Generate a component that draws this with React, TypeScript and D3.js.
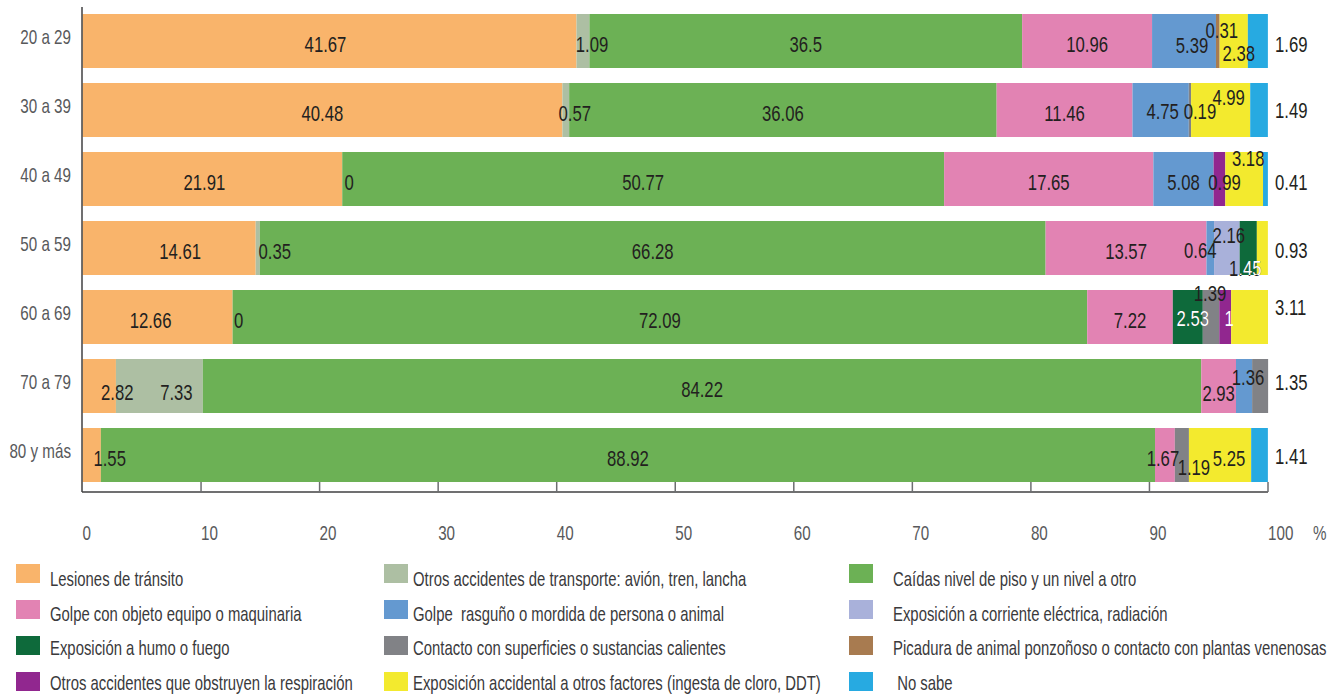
import React from "react";
import * as d3 from "d3";

// ---------- DATA ----------
const categories = ["20 a 29", "30 a 39", "40 a 49", "50 a 59", "60 a 69", "70 a 79", "80 y más"];

const seriesKeys = [
  "transito", "otrosTransporte", "caidas", "golpeObjeto", "golpeRasguno", "corriente",
  "humo", "contacto", "picadura", "obstruyen", "otrosFactores", "noSabe",
];

const seriesNames = [
  "Lesiones de tránsito",
  "Otros accidentes de transporte: avión, tren, lancha",
  "Caídas nivel de piso y un nivel a otro",
  "Golpe con objeto equipo o maquinaria",
  "Golpe  rasguño o mordida de persona o animal",
  "Exposición a corriente eléctrica, radiación",
  "Exposición a humo o fuego",
  "Contacto con superficies o sustancias calientes",
  "Picadura de animal ponzoñoso o contacto con plantas venenosas",
  "Otros accidentes que obstruyen la respiración",
  "Exposición accidental a otros factores (ingesta de cloro, DDT)",
  " No sabe",
];

const seriesColors = [
  "#F9B46B", "#ADBFA3", "#6CB155", "#E283B3", "#6499D0", "#A9B1DA",
  "#0E6A3B", "#818286", "#A87B50", "#91278F", "#F3EA2E", "#27AAE1",
];

const transito = [41.67, 40.48, 21.91, 14.61, 12.66, 2.82, 1.55];
const otrosTransporte = [1.09, 0.57, 0, 0.35, 0, 7.33, null];
const caidas = [36.5, 36.06, 50.77, 66.28, 72.09, 84.22, 88.92];
const golpeObjeto = [10.96, 11.46, 17.65, 13.57, 7.22, 2.93, 1.67];
const golpeRasguno = [5.39, 4.75, 5.08, 0.64, null, 1.36, null];
const corriente = [null, null, null, 2.16, null, null, null];
const humo = [null, null, null, 1.45, 2.53, null, null];
const contacto = [null, 0.19, null, null, 1.39, 1.35, 1.19];
const picadura = [0.31, null, null, null, null, null, null];
const obstruyen = [null, null, 0.99, null, 1, null, null];
const otrosFactores = [2.38, 4.99, 3.18, 0.93, 3.11, null, 5.25];
const noSabe = [1.69, 1.49, 0.41, null, null, null, 1.41];

const seriesValues: (number | null)[][] = [
  transito, otrosTransporte, caidas, golpeObjeto, golpeRasguno, corriente,
  humo, contacto, picadura, obstruyen, otrosFactores, noSabe,
];

const xTickValues = [0, 10, 20, 30, 40, 50, 60, 70, 80, 90, 100];

// ---------- LAYOUT (label nudges, px) ----------
const labelNudges: Record<string, [number, number]> = {
  "0|0": [-4, 0], "0|1": [9, 0], "0|4": [8, 1], "0|8": [4, -14], "0|10": [5, 9],
  "1|1": [9, 0], "1|4": [2, -2], "1|7": [10, -2], "1|10": [8, -16],
  "2|0": [-8, 0], "2|1": [7, 0], "2|9": [5, 0], "2|10": [4, -24],
  "3|0": [11, 0], "3|1": [17, 0], "3|4": [-10, -1], "3|5": [2, -16], "3|6": [-3, 17],
  "4|0": [-7, 0], "4|1": [6, 0], "4|6": [5, -2], "4|7": [-1, -27], "4|9": [4, -2],
  "5|0": [18, 3], "5|1": [17, 3], "5|3": [0, 4], "5|4": [4, -12],
  "6|0": [18, 0], "6|3": [-2, 0], "6|7": [12, 9], "6|10": [9, 0],
};
const outsideDy = [0, -3, 0, -1, -13, -7, -2];

const FONT = "'Liberation Sans', Arial, sans-serif";
const SX = 0.76;
const W = 1337;
const H = 695;

function T({ x, y, size, fill, anchor = "start", children }: any) {
  return (
    <text
      transform={`translate(${x},${y}) scale(${SX},1)`}
      fontSize={size}
      fill={fill}
      textAnchor={anchor}
      fontFamily={FONT}
      style={{ whiteSpace: "pre" }}
    >
      {children}
    </text>
  );
}

export default function App() {
  const xScale = d3.scaleLinear().domain([0, 100]).range([82.5, 1268]);
  const yScale = d3
    .scaleBand<string>()
    .domain(categories)
    .range([7.1, 488.9])
    .paddingInner(0.2174)
    .paddingOuter(0.1);

  const table = categories.map((c, i) => {
    const row: any = { cat: c };
    seriesKeys.forEach((k, s) => (row[k] = seriesValues[s][i] ?? 0));
    return row;
  });
  const stacked = d3.stack<any>().keys(seriesKeys)(table);

  const bw = yScale.bandwidth();
  const axisY = 492;
  const labelSize = 22;

  const rects: any[] = [];
  const labels: any[] = [];
  const clips: any[] = [];

  categories.forEach((cat, i) => {
    const y0 = yScale(cat)!;
    const rc = y0 + bw / 2;
    let lastS = -1;
    seriesKeys.forEach((_, s) => {
      if (seriesValues[s][i] !== null) lastS = s;
    });
    seriesKeys.forEach((k, s) => {
      const v = seriesValues[s][i];
      const [a, b] = stacked[s][i];
      const xa = xScale(a);
      const xb = xScale(b);
      if (b > a) {
        rects.push(
          <rect key={`r${i}-${s}`} x={xa} y={y0} width={xb - xa} height={bw} fill={seriesColors[s]} />
        );
      }
      if (v === null) return;
      const txt = String(v);
      if (s === lastS) {
        labels.push(
          <T key={`l${i}-${s}`} x={xScale(100) + 7} y={rc + 3 + 8 + outsideDy[i]} size={labelSize} fill="#231F20">
            {txt}
          </T>
        );
        return;
      }
      const [dx, dy] = labelNudges[`${i}|${s}`] || [0, 0];
      const lx = (xa + xb) / 2 + dx;
      const ly = rc + 3 + 8 + dy;
      const fitsWhite = s === 9 && xb - xa > txt.length * 8;
      labels.push(
        <T key={`l${i}-${s}`} x={lx} y={ly} size={labelSize} fill={fitsWhite ? "#FFFFFF" : "#231F20"} anchor="middle">
          {txt}
        </T>
      );
      if (s === 6) {
        const id = `clip${i}-${s}`;
        clips.push(
          <clipPath id={id} key={id}>
            <rect x={xa} y={y0} width={xb - xa + 8} height={bw} />
          </clipPath>
        );
        labels.push(
          <g key={`lw${i}-${s}`} clipPath={`url(#${id})`}>
            <T x={lx} y={ly} size={labelSize} fill="#FFFFFF" anchor="middle">
              {txt}
            </T>
          </g>
        );
      }
    });
  });

  const legendCols = [16, 384, 849];
  const legendTextOff = [34, 29, 44];

  return (
    <svg width={W} height={H} style={{ position: "absolute", left: 0, top: 0, background: "#fff" }}>
      <defs>{clips}</defs>
      <rect x={0} y={0} width={W} height={H} fill="#fff" />
      {rects}
      {/* axes */}
      <line x1={82} x2={82} y1={7} y2={axisY} stroke="#414042" strokeWidth={1.5} />
      <line x1={82} x2={xScale(100)} y1={axisY} y2={axisY} stroke="#414042" strokeWidth={1.5} />
      {xTickValues.map((t) => (
        <g key={`t${t}`}>
          {t > 0 && (
            <line x1={xScale(t)} x2={xScale(t)} y1={axisY} y2={axisY - 10} stroke="#6D6E71" strokeWidth={1.5} />
          )}
          <T x={xScale(t)} y={540} size={20} fill="#58595B">
            {String(t)}
          </T>
        </g>
      ))}
      <T x={1313} y={540} size={20} fill="#58595B">
        %
      </T>
      {categories.map((c) => (
        <T key={`c${c}`} x={71} y={yScale(c)! + bw / 2 + 3} size={20} fill="#58595B" anchor="end">
          {c}
        </T>
      ))}
      {labels}
      {/* legend */}
      {seriesNames.map((n, s) => {
        const col = s % 3;
        const row = Math.floor(s / 3);
        const x = legendCols[col];
        const y = 564 + row * 36;
        return (
          <g key={`lg${s}`}>
            <rect x={x} y={y} width={24} height={19} fill={seriesColors[s]} />
            <T x={x + legendTextOff[col]} y={586 + row * 34.5} size={19.6} fill="#3A3A3C">
              {n}
            </T>
          </g>
        );
      })}
    </svg>
  );
}
